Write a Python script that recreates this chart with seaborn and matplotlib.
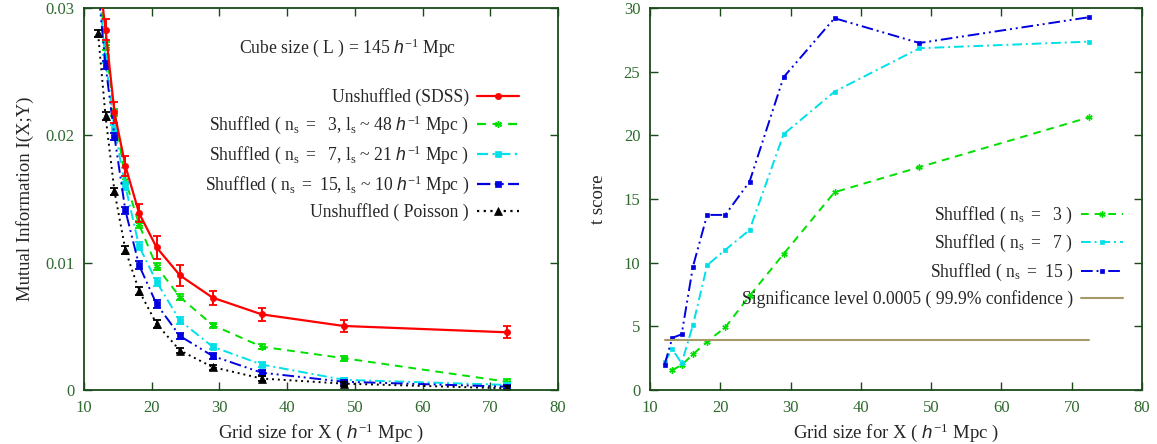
import numpy as np
import pandas as pd
import matplotlib
matplotlib.use("Agg")
import matplotlib.pyplot as plt
import seaborn as sns
from matplotlib.lines import Line2D

# ---------------- data ----------------
grid = [12.08, 13.18, 14.5, 16.11, 18.13, 20.71, 24.17, 29.0, 36.25, 48.33, 72.5]

mi_sdss = [0.0332, 0.0283, 0.0218, 0.0176, 0.0139, 0.0112, 0.0090, 0.00725, 0.00594, 0.00503, 0.00453]
mi_sdss_err = [0.0008, 0.0008, 0.0008, 0.0008, 0.0007, 0.0009, 0.00085, 0.00055, 0.0005, 0.0005, 0.00046]
mi_ns3 = [0.0325, 0.0270, 0.0218, 0.0165, 0.0130, 0.0097, 0.0073, 0.0051, 0.0034, 0.0025, 0.00065]
mi_ns3_err = [0.0003, 0.0003, 0.0003, 0.0003, 0.0003, 0.0003, 0.00025, 0.0002, 0.0002, 0.0002, 0.0002]
mi_ns7 = [0.0320, 0.0260, 0.0205, 0.0160, 0.0113, 0.0085, 0.00545, 0.0034, 0.0020, 0.0008, 0.0004]
mi_ns7_err = [0.0003, 0.0003, 0.0003, 0.0003, 0.0003, 0.0003, 0.00025, 0.0002, 0.0002, 0.00015, 0.00015]
mi_ns15 = [0.0316, 0.0255, 0.0199, 0.0141, 0.0098, 0.00675, 0.00424, 0.00267, 0.00136, 0.00065, 0.00026]
mi_ns15_err = [0.0003, 0.0003, 0.0003, 0.0003, 0.0003, 0.0003, 0.00025, 0.0002, 0.0002, 0.00015, 0.00015]
mi_poisson = [0.0280, 0.0215, 0.0156, 0.0110, 0.0078, 0.0052, 0.0031, 0.0018, 0.0009, 0.0005, 0.00013]
mi_poisson_err = [0.0003, 0.0003, 0.0003, 0.0003, 0.0003, 0.0003, 0.0002, 0.0002, 0.0002, 0.00015, 0.00015]

t_ns3 = [np.nan, 1.57, 1.96, 2.8, 3.8, 4.92, 7.4, 10.68, 15.53, 17.5, 21.42]
t_ns7 = [2.2, 3.2, 2.1, 5.1, 9.8, 11.0, 12.57, 20.08, 23.43, 26.84, 27.36]
t_ns15 = [2.0, 4.1, 4.37, 9.69, 13.75, 13.75, 16.37, 24.56, 29.2, 27.25, 29.28]
sig_x = [12.08, 72.5]
sig_level = 3.93

H = r"$\mathit{h}^{-1}$"
left_labels = ["Unshuffled (SDSS)",
               r"Shuffled ( n$_\mathrm{s}$ $=$  3, l$_\mathrm{s}$ ~ 48 " + H + " Mpc )",
               r"Shuffled ( n$_\mathrm{s}$ $=$  7, l$_\mathrm{s}$ ~ 21 " + H + " Mpc )",
               r"Shuffled ( n$_\mathrm{s}$ $=$ 15, l$_\mathrm{s}$ ~ 10 " + H + " Mpc )",
               "Unshuffled ( Poisson )"]
right_labels = [r"Shuffled ( n$_\mathrm{s}$ $=$  3 )",
                r"Shuffled ( n$_\mathrm{s}$ $=$  7 )",
                r"Shuffled ( n$_\mathrm{s}$ $=$ 15 )",
                "Significance level 0.0005 ( 99.9% confidence )"]
xlabel_text = "Grid size for X ( " + H + " Mpc )"
cube_text = "Cube size ( L ) = 145 " + H + " Mpc"

# ---------------- style ----------------
sns.set_theme(style="ticks")
plt.rcParams["font.family"] = ["Liberation Serif", "DejaVu Serif"]
plt.rcParams["mathtext.fontset"] = "custom"
plt.rcParams["mathtext.rm"] = "Liberation Serif"
plt.rcParams["mathtext.it"] = "Liberation Sans:italic"
plt.rcParams["mathtext.default"] = "regular"

spine_col = "#1a4a1a"
tick_col = "#2f6a2f"

RED, GREEN, CYAN, BLUE, BLACK = "#ff0000", "#00e000", "#00e0e8", "#0000e0", "#000000"
OLIVE = "#a59a68"

ls_solid = "-"
ls_dash = (0, (4, 3))
ls_dashdot = (0, (5, 2, 1, 2))
ls_dashdotdot = (0, (6, 2, 1, 2, 1, 2))
ls_dot = (0, (1, 2))
STAR = (6, 2, 0)

fig = plt.figure(figsize=(11.57, 4.44), dpi=100)
axL = fig.add_axes([84 / 1157, 54 / 444, 474 / 1157, 382 / 444])
axR = fig.add_axes([650 / 1157, 54 / 444, 492 / 1157, 382 / 444])

def style_axes(ax):
    for s in ax.spines.values():
        s.set_visible(True)
        s.set_color(spine_col)
        s.set_linewidth(1.3)
    ax.tick_params(direction="in", top=True, right=True, length=6, width=1.0,
                   color=spine_col, labelcolor=tick_col, labelsize=12, pad=7)
    ax.grid(False)

# ---------------- left panel ----------------
left_series = [
    (mi_sdss, mi_sdss_err, RED, ls_solid, "o", 4.5),
    (mi_ns3, mi_ns3_err, GREEN, ls_dash, STAR, 5.0),
    (mi_ns7, mi_ns7_err, CYAN, ls_dashdot, "s", 4.5),
    (mi_ns15, mi_ns15_err, BLUE, ls_dashdotdot, "s", 5.0),
    (mi_poisson, mi_poisson_err, BLACK, ls_dot, "^", 5.5),
]
handlesL = []
for (vals, errs, col, ls, mk, ms), lab in zip(left_series, left_labels):
    df = pd.DataFrame({"grid": grid, "val": vals})
    sns.lineplot(data=df, x="grid", y="val", ax=axL, color=col, linestyle=ls,
                 marker=mk, markersize=ms, markeredgewidth=1.0 if mk == STAR else 0.5,
                 markeredgecolor=col,
                 linewidth=1.6 if col == RED else 1.4, estimator=None, errorbar=None,
                 legend=False, zorder=3 if col == RED else 2)
    axL.errorbar(grid, vals, yerr=errs, fmt="none", ecolor=col, elinewidth=1.4,
                 capsize=3, capthick=1.3, zorder=3 if col == RED else 2)
    handlesL.append(Line2D([], [], color=col, linestyle=ls, marker=mk, markersize=ms,
                           markeredgewidth=1.0 if mk == STAR else 0.5,
                           markeredgecolor=col, linewidth=1.6))

axL.set_xlim(10, 80)
axL.set_ylim(0, 0.03)
axL.set_xticks(range(10, 81, 10))
axL.set_yticks([0, 0.01, 0.02, 0.03])
axL.set_yticklabels(["0", "0.01", "0.02", "0.03"])
axL.set_xlabel(xlabel_text, fontsize=13.5, labelpad=4)
axL.set_ylabel("Mutual Information I(X;Y)", fontsize=13.5, labelpad=8)
style_axes(axL)

axL.text(0.557, 0.895, cube_text, transform=axL.transAxes,
         ha="center", va="center", fontsize=12.7)

legL = axL.legend(handlesL, left_labels, loc="upper right", bbox_to_anchor=(0.918, 0.79),
                  frameon=False, markerfirst=False, fontsize=12.7, handlelength=2.4,
                  handletextpad=0.45, labelspacing=0.42, borderaxespad=0, borderpad=0,
                  numpoints=1)
for col in legL._legend_handle_box.get_children():
    col.align = "right"

# ---------------- right panel ----------------
right_series = [
    (t_ns3, GREEN, ls_dash, STAR, 4.5),
    (t_ns7, CYAN, ls_dashdot, "s", 3.5),
    (t_ns15, BLUE, ls_dashdotdot, "s", 3.5),
]
handlesR = []
for (vals, col, ls, mk, ms) in right_series:
    df = pd.DataFrame({"grid": grid, "val": vals}).dropna()
    sns.lineplot(data=df, x="grid", y="val", ax=axR, color=col, linestyle=ls,
                 marker=mk, markersize=ms, markeredgewidth=1.0 if mk == STAR else 0.5,
                 markeredgecolor=col,
                 linewidth=1.4, estimator=None, errorbar=None, legend=False)
    handlesR.append(Line2D([], [], color=col, linestyle=ls, marker=mk, markersize=ms,
                           markeredgewidth=1.0 if mk == STAR else 0.5,
                           markeredgecolor=col, linewidth=1.4))
sig_df = pd.DataFrame({"grid": sig_x, "val": [sig_level] * len(sig_x)})
sns.lineplot(data=sig_df, x="grid", y="val", ax=axR, color=OLIVE, linewidth=1.5,
             estimator=None, errorbar=None, legend=False)
handlesR.append(Line2D([], [], color=OLIVE, linewidth=1.5))

axR.set_xlim(10, 80)
axR.set_ylim(0, 30)
axR.set_xticks(range(10, 81, 10))
axR.set_yticks(range(0, 31, 5))
axR.set_xlabel(xlabel_text, fontsize=13.5, labelpad=4)
axR.set_ylabel("t score", fontsize=13.5, labelpad=12)
style_axes(axR)

legR = axR.legend(handlesR, right_labels, loc="upper right", bbox_to_anchor=(0.962, 0.485),
                  frameon=False, markerfirst=False, fontsize=12.7, handlelength=2.4,
                  handletextpad=0.45, labelspacing=0.42, borderaxespad=0, borderpad=0,
                  numpoints=1)
for col in legR._legend_handle_box.get_children():
    col.align = "right"

fig.savefig("out.png", dpi=100)
